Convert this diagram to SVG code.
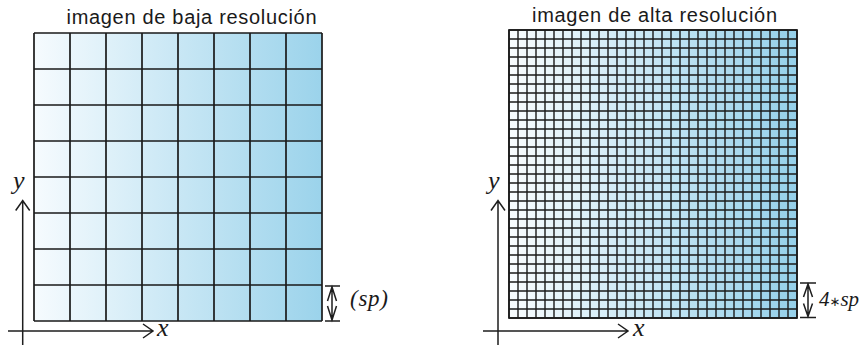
<svg xmlns="http://www.w3.org/2000/svg" width="863" height="345" viewBox="0 0 863 345">
<defs>
<linearGradient id="gL" x1="0" y1="0" x2="1" y2="0">
<stop offset="0" stop-color="#f6fbfe"/>
<stop offset="1" stop-color="#9bd3eb"/>
</linearGradient>
<linearGradient id="gR" x1="0" y1="0" x2="1" y2="0">
<stop offset="0" stop-color="#f8fcfe"/>
<stop offset="1" stop-color="#95d0ea"/>
</linearGradient>
</defs>
<style>
.title{font-family:"Liberation Sans",Arial,sans-serif;font-size:20px;fill:#1a1a1a}
.lab{font-family:'Liberation Serif',serif;font-style:italic;fill:#1a1a1a}
.grid{fill:none;stroke:#1a1a1a}
.ax{fill:none;stroke:#1e1e1e;stroke-width:1.5}
</style>
<g id="low-res">
<text class="title" x="66.5" y="24" textLength="250">imagen de baja resolución</text>
<rect x="34" y="33" width="288" height="288" fill="url(#gL)"/>
<path class="grid" stroke-width="1.7" d="M34 33v288m36-288v288m36-288v288m36-288v288m36-288v288m36-288v288m36-288v288m36-288v288m36-288v288M34 33h288m-288 36h288m-288 36h288m-288 36h288m-288 36h288m-288 36h288m-288 36h288m-288 36h288m-288 36h288"/>
</g>
<g id="high-res">
<text class="title" x="532" y="22" textLength="245">imagen de alta resolución</text>
<rect x="509" y="30" width="288" height="288" fill="url(#gR)"/>
<path class="grid" stroke-width="1.4" d="M509 30v288m9-288v288m9-288v288m9-288v288m9-288v288m9-288v288m9-288v288m9-288v288m9-288v288m9-288v288m9-288v288m9-288v288m9-288v288m9-288v288m9-288v288m9-288v288m9-288v288m9-288v288m9-288v288m9-288v288m9-288v288m9-288v288m9-288v288m9-288v288m9-288v288m9-288v288m9-288v288m9-288v288m9-288v288m9-288v288m9-288v288m9-288v288m9-288v288M509 30h288m-288 9h288m-288 9h288m-288 9h288m-288 9h288m-288 9h288m-288 9h288m-288 9h288m-288 9h288m-288 9h288m-288 9h288m-288 9h288m-288 9h288m-288 9h288m-288 9h288m-288 9h288m-288 9h288m-288 9h288m-288 9h288m-288 9h288m-288 9h288m-288 9h288m-288 9h288m-288 9h288m-288 9h288m-288 9h288m-288 9h288m-288 9h288m-288 9h288m-288 9h288m-288 9h288m-288 9h288m-288 9h288"/>
<rect x="509" y="30" width="288" height="288" fill="none" stroke="#1a1a1a" stroke-width="1.7"/>
</g>
<g id="connectors">
<path class="ax" d="M22.7 345V200.5M15.7 210.5l7-10 7 10M8 331h145M143 324l10 7-10 7"/>
<path class="ax" d="M498 345V200.5M491 210.5l7-10 7 10M483 331h145M618 324l10 7-10 7"/>
<path class="ax" d="M325 286h15M325 321h15M332 286v35M327.5 301l4.5-14 4.5 14M327.5 306l4.5 14 4.5-14"/>
<path class="ax" d="M800 283h16M800 317.5h16M808 283v34.5M803.5 297l4.5-13 4.5 13M803.5 303.5l4.5 13 4.5-13"/>
</g>
<g id="labels" class="lab">
<text x="13" y="189" font-size="26">y</text>
<text x="157" y="336" font-size="26">x</text>
<text x="488" y="189" font-size="26">y</text>
<text x="633" y="336" font-size="26">x</text>
<text x="350" y="306" font-size="23" textLength="38">(sp)</text>
<text x="819" y="306" font-size="21">4<tspan font-family="DejaVu Sans" font-style="normal" font-size="13">∗</tspan>sp</text>
</g>
</svg>
